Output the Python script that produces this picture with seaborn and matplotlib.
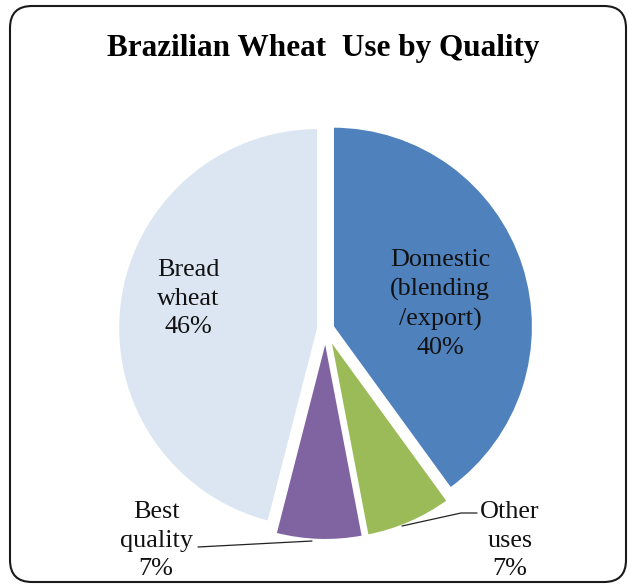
import matplotlib
matplotlib.use('Agg')
import matplotlib.pyplot as plt
import seaborn as sns
from matplotlib.patches import FancyBboxPatch
from matplotlib.transforms import IdentityTransform

sns.set_theme(style='white')
plt.rcParams['font.family'] = ['Liberation Serif', 'DejaVu Serif']

# ---- data ----
categories = ['Domestic\n(blending\n/export)', 'Other\nuses', 'Best\nquality', 'Bread\nwheat']
shares = [40, 7, 7, 46]
colors = ['#4F81BD', '#9BBB59', '#8064A2', '#DCE6F2']
explode = [0.038, 0.055, 0.055, 0.038]
title = 'Brazilian Wheat  Use by Quality'

W, H = 629, 585
fig = plt.figure(figsize=(W / 100, H / 100), dpi=100)
fig.patch.set_facecolor('white')
ax = fig.add_axes([0, 0, 1, 1])

cx, cy, R = 325.7, 329.0, 200.0  # pie centre / radius in pixels (from top)

ax.pie(shares, explode=explode, colors=colors, startangle=90, counterclock=False,
       radius=1, wedgeprops=dict(edgecolor='white', linewidth=1.5))
ax.set_aspect('auto')
ax.set_xlim(-cx / R, (W - cx) / R)
ax.set_ylim(-(H - cy) / R, cy / R)
ax.axis('off')


def pt(x, y):
    return ((x - cx) / R, (cy - y) / R)


# (centre x, baseline of last line) in pixels
label_pos = [(440, 354), (510, 575), (156, 575), (188, 333)]
for name, val, (lx, ly) in zip(categories, shares, label_pos):
    ax.text(*pt(lx, ly), f'{name}\n{val}%', ha='center', va='baseline',
            fontsize=18.8, linespacing=1.38, color='#111111')

# leader lines
bx, by = zip(pt(198, 547), pt(312, 541))
ax.plot(bx, by, color='#222222', lw=0.9)
ox, oy = zip(pt(477, 513), pt(461, 513), pt(402, 526))
ax.plot(ox, oy, color='#222222', lw=0.9)

fig.text(323 / W, (H - 56) / H, title, ha='center', va='baseline',
         fontsize=22.5, fontweight='bold', color='black')

border = FancyBboxPatch((10, 3), 616, 576, boxstyle='round,pad=0,rounding_size=22',
                        transform=IdentityTransform(), facecolor='none',
                        edgecolor='#1a1a1a', linewidth=1.5)
fig.patches.append(border)

fig.savefig('out.png', dpi=100)
